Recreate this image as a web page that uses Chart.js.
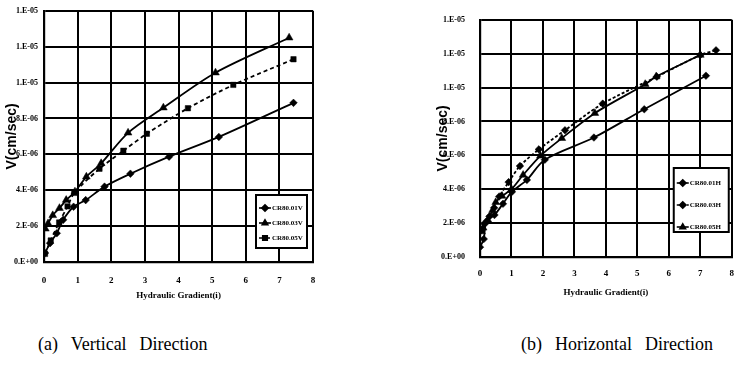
<!DOCTYPE html>
<html lang="en">
<head>
<meta charset="UTF-8">
<title>Hydraulic Gradient vs V</title>
<script src="https://cdn.jsdelivr.net/npm/chart.js"></script>
<style>
    body { margin: 0; background: #fff; width: 743px; height: 369px; overflow: hidden; position: relative; }
    .wrap { position: absolute; top: 0; height: 310px; }
    #wrapA { left: 0; width: 340px; }
    #wrapB { left: 380px; width: 365px; }
    .cap { position: absolute; top: 334px; font-family: "Liberation Serif", serif; font-size: 18px; color: #000; white-space: nowrap; word-spacing: 2px; }
</style>
</head>
<body>
<div class="wrap" id="wrapA"><canvas id="chartA"></canvas></div>
<div class="wrap" id="wrapB"><canvas id="chartB"></canvas></div>
<div class="cap" style="left:38px">(a)&nbsp; Vertical&nbsp; Direction</div>
<div class="cap" style="left:521px">(b)&nbsp; Horizontal&nbsp; Direction</div>

<script>
// y values are in units of 1E-06 cm/sec
const yTickLabels = ["0.E+00", "2.E-06", "4.E-06", "6.E-06", "8.E-06", "1.E-05", "1.E-05", "1.E-05"];

// (a) vertical direction
const i01V = [0.03, 0.18, 0.38, 0.57, 0.88, 1.24, 1.8, 2.57, 3.72, 5.2, 7.42];
const v01V = [0.5, 1.05, 1.6, 2.35, 3.08, 3.45, 4.2, 4.92, 5.87, 6.97, 8.87];
const i03V = [0.04, 0.12, 0.26, 0.46, 0.66, 0.92, 1.26, 1.7, 2.5, 3.55, 5.1, 7.29];
const v03V = [1.85, 2.15, 2.6, 3.0, 3.45, 3.92, 4.75, 5.5, 7.2, 8.6, 10.55, 12.5];
const i05V = [0.03, 0.2, 0.45, 0.7, 0.9, 1.65, 2.36, 3.06, 4.28, 5.63, 7.42];
const v05V = [0.45, 1.2, 2.2, 3.1, 3.85, 5.2, 6.2, 7.15, 8.57, 9.87, 11.3];

// (b) horizontal direction
const i01H = [0.0, 0.12, 0.2, 0.46, 0.73, 1.01, 1.49, 2.06, 3.62, 5.22, 7.18];
const v01H = [0.58, 1.06, 2.1, 2.48, 3.14, 3.84, 4.55, 5.74, 7.05, 8.72, 10.7];
const i03H = [0.05, 0.15, 0.3, 0.45, 0.61, 0.91, 1.27, 1.87, 2.7, 3.9, 5.62, 7.0, 7.5];
const v03H = [1.6, 1.95, 2.4, 2.9, 3.57, 4.42, 5.37, 6.35, 7.48, 9.05, 10.64, 11.92, 12.2];
const i05H = [0.05, 0.1, 0.25, 0.4, 0.5, 0.7, 1.0, 1.37, 1.92, 2.6, 3.65, 5.25, 5.6, 7.0];
const v05H = [1.5, 1.72, 2.19, 2.76, 3.23, 3.6, 4.0, 4.84, 5.97, 7.01, 8.49, 10.2, 10.65, 11.92];

function pts(xs, ys) {
    return xs.map((x, k) => ({ x: x, y: ys[k] }));
}

function series(label, xs, ys, style, dash) {
    return {
        label: label,
        data: pts(xs, ys),
        showLine: true,
        borderColor: "#000",
        backgroundColor: "#000",
        borderWidth: 1.8,
        borderDash: dash,
        pointStyle: style,
        pointRadius: style === "triangle" ? 4.5 : 3.8,
        pointBorderWidth: 0.5,
        tension: 0.3
    };
}

// legend box drawn inside the plot area
const boxLegend = {
    id: "boxLegend",
    afterDraw(chart, args, o) {
        const ctx = chart.ctx, a = chart.chartArea;
        const x0 = a.right - o.right - o.width;
        const y0 = a.bottom - o.bottom - o.height;
        ctx.save();
        ctx.fillStyle = "#fff";
        ctx.fillRect(x0, y0, o.width, o.height);
        ctx.strokeStyle = "#000";
        ctx.lineWidth = 2;
        ctx.strokeRect(x0, y0, o.width, o.height);
        ctx.font = "bold 7px 'Liberation Serif'";
        ctx.textBaseline = "middle";
        chart.data.datasets.forEach((ds, k) => {
            const y = y0 + o.rowTop + k * o.rowGap;
            ctx.strokeStyle = "#000";
            ctx.fillStyle = "#000";
            ctx.lineWidth = 1.6;
            ctx.setLineDash(ds.borderDash || []);
            ctx.beginPath();
            ctx.moveTo(x0 + 3, y);
            ctx.lineTo(x0 + 15, y);
            ctx.stroke();
            ctx.setLineDash([]);
            Chart.helpers.drawPoint(ctx, { pointStyle: ds.pointStyle, radius: 3.2, borderWidth: 0.5, rotation: 0 }, x0 + 9, y);
            ctx.fillText(ds.label, x0 + 16, y);
        });
        ctx.restore();
    }
};

function makeChart(id, datasets, lay) {
    return new Chart(document.getElementById(id), {
        type: "scatter",
        data: { datasets: datasets },
        plugins: [boxLegend],
        options: {
            responsive: true,
            maintainAspectRatio: false,
            animation: false,
            layout: { padding: { left: lay.padLeft, top: 10, right: lay.padRight, bottom: 0 } },
            plugins: {
                legend: { display: false },
                tooltip: { enabled: false },
                boxLegend: lay.legend
            },
            scales: {
                x: {
                    type: "linear", min: 0, max: 8,
                    afterFit: (s) => { s.height = lay.xHeight; },
                    ticks: { stepSize: 1, padding: lay.xTickPad, color: "#000", font: { family: "Liberation Serif", size: 9, weight: "bold" } },
                    grid: { color: "#000", lineWidth: 2, drawTicks: false },
                    border: { color: "#000", width: 2.2 },
                    title: { display: true, text: "Hydraulic Gradient(i)", color: "#000", padding: { top: 0, bottom: lay.xTitlePad }, font: { family: "Liberation Serif", size: 9, weight: "bold" } }
                },
                y: {
                    type: "linear", min: 0, max: 14,
                    afterFit: (s) => { s.width = lay.yWidth; },
                    ticks: { stepSize: 2, padding: lay.yTickPad, color: "#000", font: { family: "Liberation Serif", size: 8, weight: "bold" }, callback: (v) => yTickLabels[v / 2] },
                    grid: { color: "#000", lineWidth: 2, drawTicks: false },
                    border: { color: "#000", width: 2.2 },
                    title: { display: true, text: "V(cm/sec)", color: "#000", padding: { top: lay.yTitlePad, bottom: 0 }, font: { family: "Liberation Sans", size: 14, weight: "bold" } }
                }
            }
        }
    });
}

makeChart("chartA", [
    series("CR80.01V", i01V, v01V, "rectRot", []),
    series("CR80.03V", i03V, v03V, "triangle", []),
    series("CR80.05V", i05V, v05V, "rect", [4, 3])
], {
    padLeft: 0, padRight: 27, xHeight: 48, yWidth: 44,
    xTickPad: 13, xTitlePad: 9, yTickPad: 6, yTitlePad: 4,
    legend: { right: 6, bottom: 14, width: 51, height: 53, rowTop: 13, rowGap: 15 }
});

makeChart("chartB", [
    series("CR80.01H", i01H, v01H, "rectRot", []),
    series("CR80.03H", i03H, v03H, "rectRot", [3, 2]),
    series("CR80.05H", i05H, v05H, "triangle", [])
], {
    padLeft: 52, padRight: 2, xHeight: 53, yWidth: 48,
    xTickPad: 11, xTitlePad: 12, yTickPad: 15, yTitlePad: 3,
    legend: { right: 3, bottom: 25, width: 55, height: 64, rowTop: 15, rowGap: 22 }
});
</script>
</body>
</html>
